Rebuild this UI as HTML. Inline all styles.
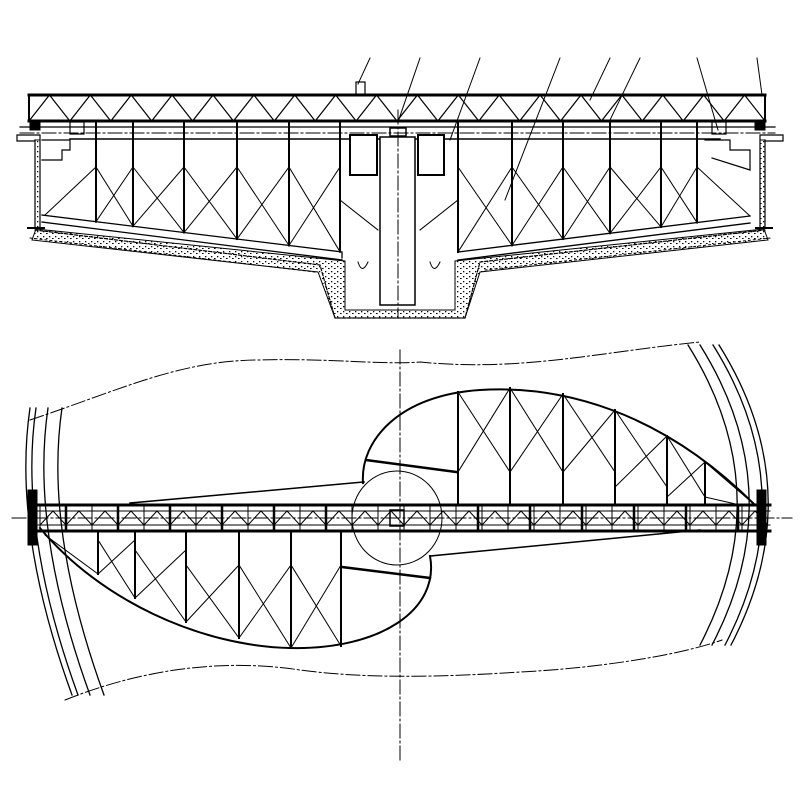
<!DOCTYPE html>
<html><head><meta charset="utf-8"><style>html,body{margin:0;padding:0;background:#fff}svg{display:block}</style></head>
<body>
<svg id="s" width="800" height="800" viewBox="0 0 800 800" xmlns="http://www.w3.org/2000/svg" fill="none" stroke="#000" stroke-linecap="square">
<defs>
<pattern id="dots" width="6" height="5" patternUnits="userSpaceOnUse">
<rect x="1" y="1" width="1.3" height="1.3" fill="#000" stroke="none"/>
<rect x="4" y="3" width="1.6" height="1" fill="#000" stroke="none"/>
</pattern>
</defs>
<g id="g"></g>
</svg>
<script>
var g=document.getElementById('g'),h='';
function L(x1,y1,x2,y2,w,d){h+='<line x1="'+x1+'" y1="'+y1+'" x2="'+x2+'" y2="'+y2+'" stroke-width="'+(w||1)+'"'+(d?' stroke-dasharray="'+d+'"':'')+'/>';}
function P(d,w,da,f){h+='<path d="'+d+'" stroke-width="'+(w||1)+'"'+(da?' stroke-dasharray="'+da+'"':'')+(f?' fill="'+f+'"':'')+'/>';}
function R(x,y,w,hh,sw,f){h+='<rect x="'+x+'" y="'+y+'" width="'+w+'" height="'+hh+'" stroke-width="'+(sw||1)+'"'+(f?' fill="'+f+'"':'')+'/>';}
var DD='14 3 2 3';
/* ===== TOP ELEVATION ===== */
// concrete stipple
P('M36,229 L345,261 L345,310 L455,310 L455,261 L764,229 L768,240 L480,272 L465,318 L335,318 L318,272 L32,240 Z',0,null,'url(#dots)');
P('M35,140 L40,140 L40,228 L35,228 Z M760,140 L765,140 L765,228 L760,228 Z',0,null,'url(#dots)');
// leader lines
[[370,58,358,84],[420,58,398,122],[480,58,450,140],[560,58,505,200],[610,58,590,100],[640,58,610,120],[697,58,718,130],[757,58,762,95]].forEach(a=>L(a[0],a[1],a[2],a[3],1));
R(356,82,9,13,1.2);
// truss
L(29,95,765,95,3);L(29,121,765,121,3);L(29,95,29,121,2);L(765,95,765,121,2);
var n=18,pw=(765-29)/n;
for(var i=0;i<n;i++){var x0=29+i*pw;L(x0,121,x0+pw/2,95,1.2);L(x0+pw/2,95,x0+pw,121,1.2);}
// rails
L(20,127,775,127,1.2);L(20,133,775,133,1,DD);L(70,139,720,139,1.5);
R(30,122,10,8,1,'#000');R(755,122,10,8,1,'#000');
R(70,122,14,12,1.2);R(712,122,14,12,1.2);
// walls
P('M17,135 L40,135 L40,228 M35,140 L35,228 M17,135 L17,141 L35,141',1.2);
P('M42,140 L70,140 L70,150 L62,150 L62,160 L42,160',1.2);
P('M783,135 L760,135 L760,228 M765,140 L765,228 M783,135 L783,141 L765,141',1.2);
P('M705,140 L730,140 L730,150 L750,150 L750,170 L712,158',1.2);
// hatched floor lines
P('M35,230 L320,265 L335,318 L465,318 L480,262 L765,230',1.2,'3 2');
P('M30,238 L315,272 M485,270 L770,238',1,'2 3');
P('M28,228 L44,228 M756,228 L772,228',2);
// bottom scraper lines
function yl(x){return 215+(x-42)*(37/300);}
function yr(x){return 252-(x-458)*(36/292);}
P('M42,215 L342,252 L342,258 M42,222 L342,260',1.3);
P('M458,252 L750,216 M458,260 L750,223',1.3);
// posts + bracing
var lp=[96,133,184,237,289,340],rp=[458,512,563,610,661,697];
lp.forEach(function(x){L(x,122,x,yl(x),2);});
rp.forEach(function(x){L(x,122,x,yr(x),2);});
for(var i=0;i<lp.length-1;i++){var a=lp[i],b=lp[i+1];L(a,167,b,yl(b),1);L(b,167,a,yl(a),1);}
for(var i=0;i<rp.length-1;i++){var a=rp[i],b=rp[i+1];L(a,167,b,yr(b),1);L(b,167,a,yr(a),1);}
L(96,167,45,215,1);L(697,167,750,216,1);
L(340,200,378,230,1);L(458,200,420,230,1);
// center column & boxes
R(380,137,35,168,1.5,'#fff');L(398,110,398,318,1,DD);
R(350,135,27,40,2,'#fff');R(418,135,26,40,2,'#fff');
R(390,128,16,8,1.5);
P('M358,262 Q362,275 368,262 M430,262 Q434,275 440,262',1);
/* ===== PLAN VIEW ===== */
L(400,350,400,762,1,DD);L(12,518,792,518,1,DD);
// dash-dot outline curves
P('M30,420 C120,390 180,360 260,360 C330,358 380,365 420,362 C520,372 600,352 700,342',1,DD);
P('M65,700 C140,670 220,658 300,670 C360,678 430,678 520,672 C600,668 680,655 722,640',1,DD);
// outer arcs
[0,6,18,32].forEach(function(o){P('M'+(30+o)+',408 Q'+(12+o)+',530 '+(72+o)+',695',1.3);});
[0,12,25,31].forEach(function(o){P('M'+(688+o)+',345 Q'+(780+o)+',492 '+(700+o)+',645',1.3);});
// bridge truss
L(30,505,770,505,3);L(30,531,770,531,3);L(30,511,770,511,1);L(30,525,770,525,1);
for(var x=40;x<765;x+=26){L(x,505,x,531,1);L(x,525,x+13,511,1);L(x+13,511,x+26,525,1);}
[66,118,170,222,274,326,478,530,582,634,686,738].forEach(function(x){L(x,505,x,531,2.5);});
R(28,490,9,55,1,'#000');R(757,490,9,55,1,'#000');
R(390,510,14,16,1.5);
// centre circle
h+='<ellipse cx="397" cy="518" rx="45" ry="47" stroke-width="1"/>';
// upper-right lobe
P('M363,483 C360,440 400,395 480,390 C560,385 660,410 755,505',2);
P('M366,460 L456,472',2.5);
P('M130,503 L364,482',1.5);
var up=[[458,392],[510,388],[563,394],[615,410],[667,436],[705,462]];
up.forEach(function(p){L(p[0],505,p[0],p[1],2);});
for(var i=0;i<up.length-1;i++){var a=up[i],b=up[i+1],yb=(i<3?472:(i==3?487:497));L(a[0],a[1],b[0],yb,1);L(b[0],b[1],a[0],yb,1);}
L(705,462,755,505,1);L(705,497,740,505,1);
// lower-left lobe
P('M430,556 C440,610 380,650 290,648 C200,646 100,600 40,528',2);
P('M342,567 L430,578',2.5);
P('M430,556 L700,530',1.5);
var lo=[[341,646],[291,648],[239,638],[186,622],[135,598],[98,574]];
lo.forEach(function(p){L(p[0],531,p[0],p[1],2);});
for(var i=0;i<lo.length-1;i++){var a=lo[i],b=lo[i+1],yt=(i<3?565:(i==3?550:540));L(a[0],a[1],b[0],yt,1);L(b[0],b[1],a[0],yt,1);}
L(98,574,45,535,1);
g.innerHTML=h;
</script>
</body></html>
